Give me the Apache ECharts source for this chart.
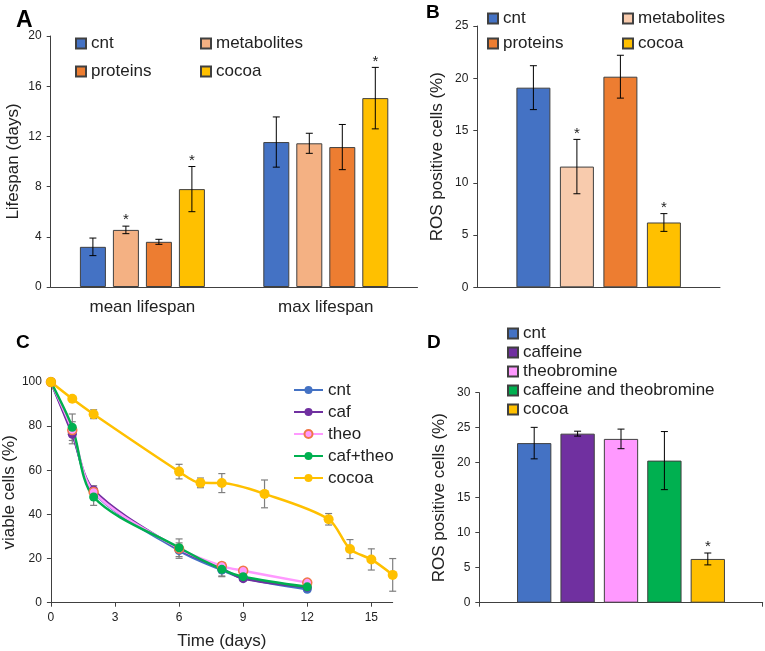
<!DOCTYPE html>
<html><head><meta charset="utf-8">
<script src="https://cdn.jsdelivr.net/npm/echarts@6/dist/echarts.min.js"></script>
<style>
html,body{margin:0;padding:0;background:#fff;width:765px;height:651px;overflow:hidden}
.p{position:absolute;left:0;top:0;width:765px;height:651px}
</style></head>
<body>
<div id="a" class="p"></div><div id="b" class="p"></div><div id="c" class="p"></div><div id="d" class="p"></div>
<script>
// ---------- DATA ----------
// Panel A: lifespan (days)
const lifespanGroups = ['mean lifespan', 'max lifespan'];
const lifespanSeriesNames = ['cnt', 'metabolites', 'proteins', 'cocoa'];
const lifespanCnt = [3.2, 11.55];
const lifespanMetabolites = [4.55, 11.45];
const lifespanProteins = [3.6, 11.15];
const lifespanCocoa = [7.8, 15.05];
const lifespanCntErr = [0.7, 2.0];
const lifespanMetabolitesErr = [0.3, 0.8];
const lifespanProteinsErr = [0.2, 1.8];
const lifespanCocoaErr = [1.8, 2.45];
const lifespanCntSig = [false, false];
const lifespanMetabolitesSig = [true, false];
const lifespanProteinsSig = [false, false];
const lifespanCocoaSig = [true, true];
const lifespanTicks = [0, 20, 4];

// Panel B: ROS positive cells (%)
const rosBNames = ['cnt', 'metabolites', 'proteins', 'cocoa'];
const rosBValues = [19.1, 11.55, 20.15, 6.2];
const rosBErr = [2.1, 2.6, 2.05, 0.85];
const rosBSig = [false, true, false, true];
const rosBTicks = [0, 25, 5];

// Panel C: viable cells (%) over time (days)
const viableCntDays = [0, 1, 2, 6, 8, 9, 12];
const viableCnt = [100, 77, 50, 23.6, 14.8, 11.2, 6.1];
const viableCntErr = [0, 5, 3, 3.5, 3, 1.2, 1];
const viableCafDays = [0, 1, 2, 6, 8, 9, 12];
const viableCaf = [100, 76.3, 51.1, 24.2, 15.5, 10.9, 7];
const viableTheoDays = [0, 1, 2, 6, 8, 9, 12];
const viableTheo = [100, 78.2, 50.2, 24.5, 16.6, 14.5, 9.1];
const viableCafTheoDays = [0, 1, 2, 6, 8, 9, 12];
const viableCafTheo = [100, 79.5, 47.9, 24.9, 15.1, 11.8, 7.2];
const viableCafTheoErr = [0, 6, 3.8, 4, 3, 1, 1];
const viableCocoaDays = [0, 1, 2, 6, 7, 8, 10, 13, 14, 15, 16];
const viableCocoa = [100, 92.4, 85.4, 59.4, 54.3, 54.2, 49.3, 37.8, 24.3, 19.6, 12.6];
const viableCocoaErr = [0, 0, 2, 3.3, 2.2, 4.3, 6.3, 2.6, 4.3, 4.8, 7.4];
const timeTickLabels = [0, 3, 6, 9, 12, 15];
const viableTicks = [0, 100, 20];

// Panel D: ROS positive cells (%)
const rosDNames = ['cnt', 'caffeine', 'theobromine', 'caffeine and theobromine', 'cocoa'];
const rosDValues = [22.8, 24.15, 23.4, 20.3, 6.25];
const rosDErr = [2.25, 0.35, 1.4, 4.15, 0.85];
const rosDSig = [false, false, false, false, true];
const rosDTicks = [0, 30, 5];

// ---------- STYLE ----------
const FONT = 'Liberation Sans, Arial, sans-serif';
const TXT = '#222';
const AX = '#404040';
const BORDER = '#404040';
const C_BLUE = '#4472C4', C_METAB_A = '#F4B183', C_METAB_B = '#F8CBAD', C_ORANGE = '#ED7D31',
      C_GOLD = '#FFC000', C_PURPLE = '#7030A0', C_PINK = '#FF99FF', C_GREEN = '#00B050';

function panelLabel(t, x, y, size) {
  return {type: 'text', left: x, top: y, style: {text: t, font: 'bold ' + size + 'px ' + FONT, fill: '#000'}};
}

function barErrSeries(nSeries, bw, gap, items) {
  return {
    type: 'custom', z: 5, silent: true,
    encode: {x: 1, y: 2},
    data: items,
    renderItem: function (params, api) {
      const si = api.value(0), ci = api.value(1), v = api.value(2), e = api.value(3), s = api.value(4);
      const p = api.coord([ci, v]);
      const total = nSeries * bw + (nSeries - 1) * gap;
      const x = p[0] - total / 2 + si * (bw + gap) + bw / 2;
      const yT = api.coord([ci, v + e])[1], yB = api.coord([ci, v - e])[1];
      const ls = {stroke: '#000', lineWidth: 1};
      const ch = [
        {type: 'line', shape: {x1: x, y1: yT, x2: x, y2: yB}, style: ls},
        {type: 'line', shape: {x1: x - 3.5, y1: yT, x2: x + 3.5, y2: yT}, style: ls},
        {type: 'line', shape: {x1: x - 3.5, y1: yB, x2: x + 3.5, y2: yB}, style: ls}
      ];
      if (s) ch.push({type: 'text', style: {text: '*', x: x, y: yT - 6, align: 'center', verticalAlign: 'middle', fontSize: 15, fontFamily: FONT, fill: TXT}});
      return {type: 'group', children: ch};
    }
  };
}

function valueAxis(ticks, name, nameGap) {
  return {
    type: 'value', min: ticks[0], max: ticks[1], interval: ticks[2],
    axisLine: {show: true, lineStyle: {color: AX, width: 1}},
    axisTick: {show: true, length: 4, lineStyle: {color: AX}},
    axisLabel: {fontSize: 12, color: TXT, margin: 9, fontFamily: FONT},
    splitLine: {show: false},
    name: name, nameLocation: 'middle', nameGap: nameGap, nameRotate: 90,
    nameTextStyle: {fontSize: 17, color: TXT, fontFamily: FONT}
  };
}

function barSeries(name, data, color, bw, gapPct) {
  return {type: 'bar', name: name, data: data, barWidth: bw, barGap: gapPct,
    itemStyle: {color: color, borderColor: BORDER, borderWidth: 1}};
}

function legendBox(left, top, data, gap) {
  return {left: left, top: top, orient: 'vertical', data: data, icon: 'rect', itemWidth: 10, itemHeight: 10,
    itemGap: gap, padding: 0, selectedMode: false,
    textStyle: {fontSize: 17, color: TXT, fontFamily: FONT, lineHeight: 17}};
}

// ---------- PANEL A ----------
(function () {
  const vals = [lifespanCnt, lifespanMetabolites, lifespanProteins, lifespanCocoa];
  const errs = [lifespanCntErr, lifespanMetabolitesErr, lifespanProteinsErr, lifespanCocoaErr];
  const sigs = [lifespanCntSig, lifespanMetabolitesSig, lifespanProteinsSig, lifespanCocoaSig];
  const colors = [C_BLUE, C_METAB_A, C_ORANGE, C_GOLD];
  const items = [];
  vals.forEach((arr, si) => arr.forEach((v, ci) => items.push([si, ci, v, errs[si][ci], sigs[si][ci] ? 1 : 0])));
  const bw = 26, gap = 7;
  const series = lifespanSeriesNames.map((n, i) => barSeries(n, vals[i], colors[i], bw, (gap / bw * 100) + '%'));
  series.push(barErrSeries(4, bw, gap, items));
  const chart = echarts.init(document.getElementById('a'), null, {renderer: 'canvas'});
  chart.setOption({
    animation: false,
    textStyle: {fontFamily: FONT},
    graphic: [panelLabel('A', 16, 9, 23)],
    grid: {left: 50.7, right: 347.5, top: 36, bottom: 364, containLabel: false},
    legend: [legendBox(75, 35, ['cnt', 'proteins'], 11), legendBox(200, 35, ['metabolites', 'cocoa'], 11)],
    xAxis: {type: 'category', data: lifespanGroups,
      axisLine: {lineStyle: {color: AX}}, axisTick: {show: false},
      axisLabel: {fontSize: 17, color: TXT, margin: 12, fontFamily: FONT}},
    yAxis: valueAxis(lifespanTicks, 'Lifespan (days)', 29),
    series: series
  });
})();

// ---------- PANEL B ----------
(function () {
  const colors = [C_BLUE, C_METAB_B, C_ORANGE, C_GOLD];
  const bw = 34, gap = 9.5;
  const series = rosBNames.map((n, i) => barSeries(n, [rosBValues[i]], colors[i], bw, (gap / bw * 100) + '%'));
  const items = rosBNames.map((n, i) => [i, 0, rosBValues[i], rosBErr[i], rosBSig[i] ? 1 : 0]);
  series.push(barErrSeries(4, bw, gap, items));
  const chart = echarts.init(document.getElementById('b'));
  chart.setOption({
    animation: false,
    textStyle: {fontFamily: FONT},
    graphic: [panelLabel('B', 426, 3, 19)],
    grid: {left: 477.3, right: 45, top: 26, bottom: 363.7},
    legend: [legendBox(487, 10, ['cnt', 'proteins'], 8), legendBox(622, 10, ['metabolites', 'cocoa'], 8)],
    xAxis: {type: 'category', data: [''], axisLine: {lineStyle: {color: AX}}, axisTick: {show: false}, axisLabel: {show: false}},
    yAxis: valueAxis(rosBTicks, 'ROS positive cells (%)', 31),
    series: series
  });
})();

// ---------- PANEL C ----------
(function () {
  const pair = (xs, ys) => xs.map((x, i) => [x, ys[i]]);
  const lineS = (name, xs, ys, color, size, extra) => Object.assign({
    type: 'line', name: name, data: pair(xs, ys), smooth: 0.3, z: 3,
    symbol: 'circle', symbolSize: size, showSymbol: true,
    lineStyle: {color: color, width: 2.5},
    itemStyle: {color: color}
  }, extra || {});
  const errItems = [];
  [[viableCntDays, viableCnt, viableCntErr], [viableCafTheoDays, viableCafTheo, viableCafTheoErr],
   [viableCocoaDays, viableCocoa, viableCocoaErr]].forEach(([xs, ys, es]) =>
     xs.forEach((x, i) => { if (es[i] > 0) errItems.push([x, ys[i], es[i]]); }));
  const errS = {
    type: 'custom', z: 2, silent: true, encode: {x: 0, y: 1}, data: errItems,
    renderItem: function (params, api) {
      const x = api.value(0), y = api.value(1), e = api.value(2);
      const pT = api.coord([x, y + e]), pB = api.coord([x, y - e]);
      const ls = {stroke: '#7F7F7F', lineWidth: 1.2};
      return {type: 'group', children: [
        {type: 'line', shape: {x1: pT[0], y1: pT[1], x2: pB[0], y2: pB[1]}, style: ls},
        {type: 'line', shape: {x1: pT[0] - 3.5, y1: pT[1], x2: pT[0] + 3.5, y2: pT[1]}, style: ls},
        {type: 'line', shape: {x1: pB[0] - 3.5, y1: pB[1], x2: pB[0] + 3.5, y2: pB[1]}, style: ls}
      ]};
    }
  };
  const chart = echarts.init(document.getElementById('c'));
  chart.setOption({
    animation: false,
    textStyle: {fontFamily: FONT},
    graphic: [panelLabel('C', 16, 333, 19)],
    grid: {left: 50.7, right: 372.3, top: 382, bottom: 48.3},
    legend: {left: 293, top: 381, orient: 'vertical', itemWidth: 29, itemHeight: 10, itemGap: 4, padding: 0,
      selectedMode: false, data: ['cnt', 'caf', 'theo', 'caf+theo', 'cocoa'],
      textStyle: {fontSize: 17, color: TXT, fontFamily: FONT, lineHeight: 18}},
    xAxis: {type: 'value', min: 0, max: 16, interval: 3,
      axisLine: {show: true, lineStyle: {color: AX}},
      axisTick: {show: true, length: 4, lineStyle: {color: AX}, customValues: timeTickLabels},
      axisLabel: {fontSize: 12, color: TXT, margin: 9, fontFamily: FONT, customValues: timeTickLabels},
      splitLine: {show: false},
      name: 'Time (days)', nameLocation: 'middle', nameGap: 30,
      nameTextStyle: {fontSize: 17, color: TXT, fontFamily: FONT}},
    yAxis: valueAxis(viableTicks, 'viable cells (%)', 29),
    series: [
      errS,
      lineS('cnt', viableCntDays, viableCnt, C_BLUE, 9),
      lineS('caf', viableCafDays, viableCaf, C_PURPLE, 9),
      lineS('theo', viableTheoDays, viableTheo, C_PINK, 9, {itemStyle: {color: C_PINK, borderColor: '#F07848', borderWidth: 1.5}}),
      lineS('caf+theo', viableCafTheoDays, viableCafTheo, C_GREEN, 9),
      lineS('cocoa', viableCocoaDays, viableCocoa, C_GOLD, 10)
    ]
  });
})();

// ---------- PANEL D ----------
(function () {
  const colors = [C_BLUE, C_PURPLE, C_PINK, C_GREEN, C_GOLD];
  const bw = 34.3, gap = 9.1;
  const series = rosDNames.map((n, i) => barSeries(n, [rosDValues[i]], colors[i], bw, (gap / bw * 100) + '%'));
  const items = rosDNames.map((n, i) => [i, 0, rosDValues[i], rosDErr[i], rosDSig[i] ? 1 : 0]);
  series.push(barErrSeries(5, bw, gap, items));
  const chart = echarts.init(document.getElementById('d'));
  chart.setOption({
    animation: false,
    textStyle: {fontFamily: FONT},
    graphic: [panelLabel('D', 427, 333, 19)],
    grid: {left: 479.3, right: 2.3, top: 392.7, bottom: 48.3},
    legend: legendBox(507, 325, rosDNames, 2),
    xAxis: {type: 'category', data: [''], axisLine: {lineStyle: {color: AX}},
      axisTick: {show: true, length: 4, lineStyle: {color: AX}}, axisLabel: {show: false}},
    yAxis: valueAxis(rosDTicks, 'ROS positive cells (%)', 31),
    series: series
  });
})();
</script>
</body></html>
